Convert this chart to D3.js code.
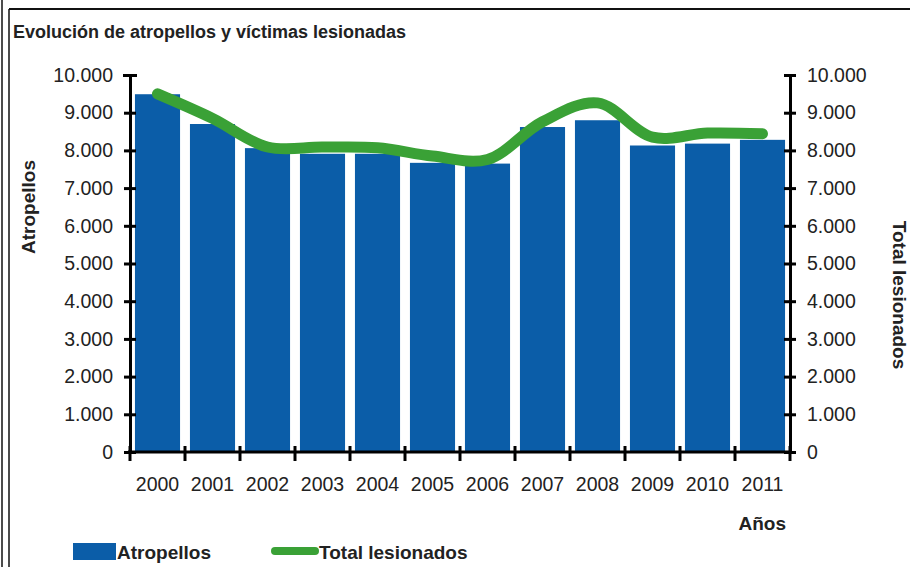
<!DOCTYPE html>
<html>
<head>
<meta charset="utf-8">
<script src="https://cdn.jsdelivr.net/npm/d3@7"></script>
<style>
  body { margin: 0; background: #fff; }
  svg { display: block; }
  text { fill: #222; font-family: "Liberation Sans Narrow", "Liberation Sans", Arial, sans-serif; }
  .bold { font-weight: bold; }
</style>
</head>
<body>
<svg id="chart" width="910" height="567"></svg>
<script>
var years = ["2000", "2001", "2002", "2003", "2004", "2005", "2006", "2007", "2008", "2009", "2010", "2011"];
var atropellos = [9490, 8700, 8060, 7910, 7910, 7670, 7650, 8620, 8800, 8130, 8180, 8280];
var lesionados = [9500, 8850, 8090, 8090, 8070, 7850, 7760, 8760, 9260, 8350, 8460, 8440];
var yTicks = [0, 1000, 2000, 3000, 4000, 5000, 6000, 7000, 8000, 9000, 10000];

var barCol = "#0b5da8",
  lineCol = "#3aa136";

var svg = d3.select("#chart");

var x = d3.scaleBand().domain(years).range([130, 790]).paddingInner(0.18).paddingOuter(0.09);
var y = d3.scaleLinear().domain([0, 10000]).range([452, 75]);

var fmt = function (d) {
  return d3.format(",")(d).replace(/,/g, ".");
};

// frame
svg.append("line").attr("x1", 2).attr("x2", 2).attr("y1", 0).attr("y2", 567)
  .attr("stroke", "#111").attr("stroke-width", 1.5);
svg.append("line").attr("x1", 9).attr("x2", 9).attr("y1", 9).attr("y2", 567)
  .attr("stroke", "#111").attr("stroke-width", 1.5);
svg.append("line").attr("x1", 9).attr("x2", 910).attr("y1", 9).attr("y2", 9)
  .attr("stroke", "#111").attr("stroke-width", 2);

// title
svg.append("text").attr("class", "bold").attr("x", 13).attr("y", 38)
  .attr("font-size", 18).text("Evolución de atropellos y víctimas lesionadas");

// bars
svg.append("g").selectAll("rect").data(years).join("rect")
  .attr("x", function (d) { return x(d); })
  .attr("width", x.bandwidth())
  .attr("y", function (d, i) { return y(atropellos[i]); })
  .attr("height", function (d, i) { return y(0) - y(atropellos[i]); })
  .attr("fill", barCol);

// smoothed line
var line = d3.line()
  .x(function (d, i) { return x(years[i]) + x.bandwidth() / 2; })
  .y(function (d) { return y(d); })
  .curve(d3.curveCatmullRom.alpha(0.5));

svg.append("path").datum(lesionados)
  .attr("d", line)
  .attr("fill", "none")
  .attr("stroke", lineCol)
  .attr("stroke-width", 11)
  .attr("stroke-linecap", "round")
  .attr("stroke-linejoin", "round");

// axes (Excel style, ticks cross the line)
function styleAxis(g) {
  g.selectAll("path.domain").attr("stroke", "#000").attr("stroke-width", 3);
  g.selectAll(".tick line").attr("stroke", "#000").attr("stroke-width", 3);
  g.selectAll(".tick text").attr("font-size", 19.5).attr("fill", "#222");
}

var leftAxis = svg.append("g").attr("transform", "translate(130,0)")
  .call(d3.axisLeft(y).tickValues(yTicks).tickFormat(fmt).tickSize(6).tickSizeOuter(0))
  .call(styleAxis);
leftAxis.selectAll(".tick line").attr("x2", 6).attr("x1", -6);
leftAxis.selectAll(".tick text").attr("x", -17);
leftAxis.selectAll(".tick").filter(function (d) { return d === 10000; }).select("line")
  .attr("x1", -7).attr("x2", 7);

var rightAxis = svg.append("g").attr("transform", "translate(790,0)")
  .call(d3.axisRight(y).tickValues(yTicks).tickFormat(fmt).tickSize(6).tickSizeOuter(0))
  .call(styleAxis);
rightAxis.selectAll(".tick line").attr("x1", -6).attr("x2", 6);
rightAxis.selectAll(".tick text").attr("x", 17);

var bottomAxis = svg.append("g").attr("transform", "translate(0,452)")
  .call(d3.axisBottom(x).tickSize(0).tickSizeOuter(0))
  .call(styleAxis);
bottomAxis.select("path.domain").attr("d", "M128,0H792");
bottomAxis.selectAll(".tick text").attr("y", 25);

// category boundary ticks
var bounds = years.map(function (d) { return x(d) - x.step() * x.paddingInner() / 2; });
bounds.push(790);
svg.append("g").selectAll("line").data(bounds).join("line")
  .attr("x1", function (d) { return d; }).attr("x2", function (d) { return d; })
  .attr("y1", 446).attr("y2", 461)
  .attr("stroke", "#000").attr("stroke-width", 3);

// axis titles
svg.append("text").attr("class", "bold").attr("font-size", 19)
  .attr("text-anchor", "middle")
  .attr("transform", "translate(35,207) rotate(-90)")
  .text("Atropellos");
svg.append("text").attr("class", "bold").attr("font-size", 19)
  .attr("text-anchor", "middle")
  .attr("transform", "translate(893,295) rotate(90)")
  .text("Total lesionados");
svg.append("text").attr("class", "bold").attr("font-size", 19)
  .attr("text-anchor", "end")
  .attr("x", 786).attr("y", 530)
  .text("Años");

// legend
var legend = svg.append("g");
legend.append("rect").attr("x", 73).attr("y", 543).attr("width", 43).attr("height", 17).attr("fill", barCol);
legend.append("text").attr("class", "bold").attr("font-size", 19).attr("x", 117).attr("y", 559).text("Atropellos");
legend.append("line").attr("x1", 275).attr("x2", 315).attr("y1", 551).attr("y2", 551)
  .attr("stroke", lineCol).attr("stroke-width", 8).attr("stroke-linecap", "round");
legend.append("text").attr("class", "bold").attr("font-size", 19).attr("x", 319).attr("y", 559).text("Total lesionados");
</script>
</body>
</html>
